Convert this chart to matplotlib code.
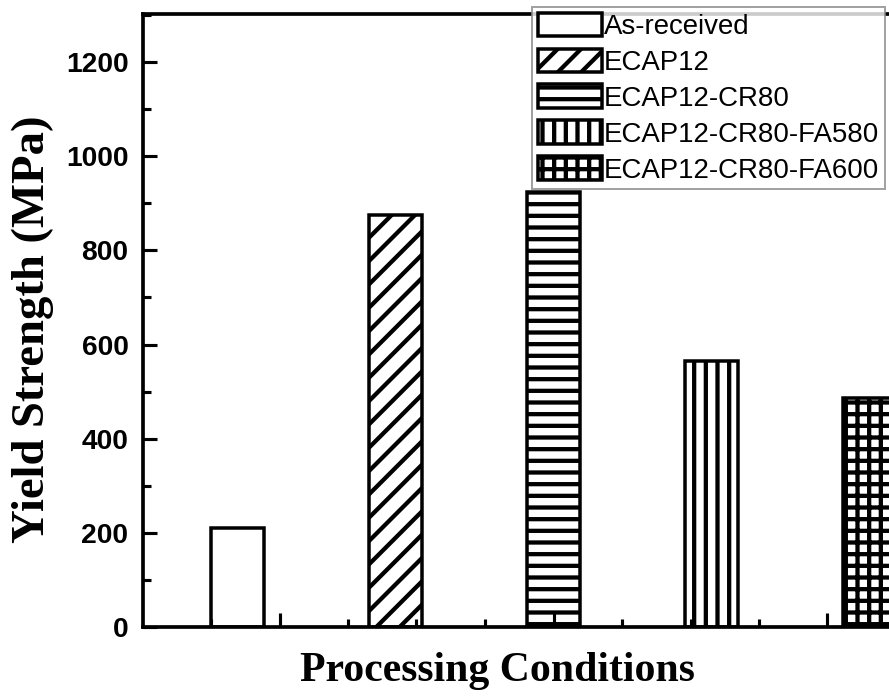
import numpy as np
import matplotlib
matplotlib.use("Agg")
import matplotlib.pyplot as plt
from matplotlib.ticker import FixedLocator, MultipleLocator

# data
conditions = ["As-received", "ECAP12", "ECAP12-CR80", "ECAP12-CR80-FA580", "ECAP12-CR80-FA600"]
yield_strength = [210, 875, 924, 565, 486]
hatches = ["", "//", "--", "||", "++"]
y_ticks = [0, 200, 400, 600, 800, 1000, 1200]

plt.rcParams["hatch.linewidth"] = 2.2
plt.rcParams["hatch.color"] = "black"

fig = plt.figure(figsize=(889 / 140, 700 / 140), dpi=140)
ax = fig.add_axes([143 / 889, 73 / 700, (964 - 143) / 889, 613 / 700])

x = np.arange(1, len(conditions) + 1)
for xi, val, h, lab in zip(x, yield_strength, hatches, conditions):
    ax.bar(xi, val, width=0.336, facecolor="white", edgecolor="black",
           linewidth=1.8, hatch=h, label=lab)

ax.set_xlim(0.4, 5.6)
ax.set_ylim(0, 1302)

# odd x tick spacing copied from the original plot
ax.xaxis.set_major_locator(FixedLocator([3 - 1.735, 3.0, 3 + 1.735]))
ax.xaxis.set_minor_locator(FixedLocator([3 + k * 0.434 for k in range(-7, 6) if k % 4 != 0]))
ax.set_xticklabels([])

ax.set_yticks(y_ticks)
ax.yaxis.set_minor_locator(MultipleLocator(100))
ax.set_yticklabels([str(v) for v in y_ticks], fontfamily="Liberation Sans",
                   fontweight="bold", fontsize=14.5)

ax.tick_params(which="major", direction="in", length=7, width=1.6, pad=7.5)
ax.tick_params(which="minor", direction="in", length=4, width=1.6)
for s in ax.spines.values():
    s.set_linewidth(1.9)

fig.text(33 / 889, 1 - 329 / 700, "Yield Strength (MPa)", rotation=90,
         ha="center", va="center", fontfamily="Liberation Serif",
         fontweight="bold", fontsize=24)
fig.text(497 / 889, 1 - 671 / 700, "Processing Conditions",
         ha="center", va="center", fontfamily="Liberation Serif",
         fontweight="bold", fontsize=21.5)

leg = ax.legend(loc="upper left", bbox_to_anchor=(532 / 889, 1 - 7 / 700),
                bbox_transform=fig.transFigure, borderaxespad=0,
                prop={"family": "Liberation Sans", "size": 14.2},
                handlelength=2.35, handleheight=0.92, handletextpad=0.05,
                labelspacing=0.32, borderpad=0.2, fancybox=False)
leg.get_frame().set_edgecolor("#888888")
leg.get_frame().set_linewidth(1.0)

fig.savefig("out.png", dpi=140)
